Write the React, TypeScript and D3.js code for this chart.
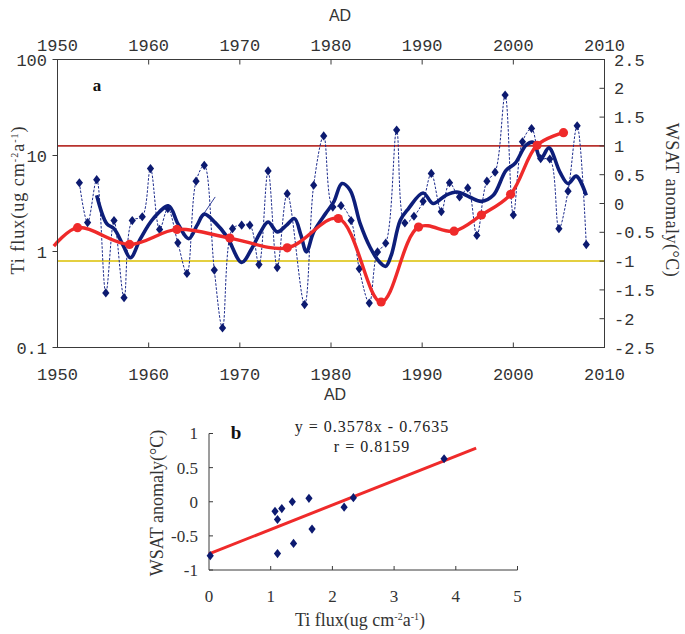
import React from 'react';
import * as d3 from 'd3';

// ---- Panel a: annual Ti flux (ug cm-2 a-1), log axis ----
const tiYears = [1952.4,1953.3,1954.3,1955.3,1956.2,1957.3,1958.2,1959.3,1960.2,1961.2,1962.1,1963.2,1964.2,1965.2,1966.1,1967.2,1968.1,1969.2,1970.2,1971.1,1972.1,1973.1,1974.1,1975.2,1977.1,1978.1,1979.2,1980.2,1981.1,1982.2,1983.1,1984.2,1985.1,1986.0,1987.2,1988.1,1989.1,1990.1,1991.0,1992.1,1993.0,1994.1,1995.0,1996.0,1997.1,1998.0,1999.1,2000.0,2001.0,2002.0,2003.0,2004.0,2005.0,2006.0,2007.0,2008.0];
const tiFlux = [5.2,2.0,5.6,0.37,2.1,0.33,2.1,2.3,7.3,1.7,2.8,1.23,0.59,5.4,7.9,0.64,0.16,1.73,1.88,1.88,0.73,6.9,0.68,4.0,0.28,4.9,16.0,2.9,3.0,2.1,0.66,0.29,0.99,1.22,18.4,1.98,2.33,3.33,6.5,2.6,5.2,3.7,4.6,1.47,5.4,6.7,42.6,2.4,13.9,19.1,9.3,9.2,1.73,4.25,20.4,1.18];

// smoothed Ti flux (thick line)
const smoothYears = [1954.3,1955.4,1956.2,1957.2,1958.0,1959.1,1960.5,1962.2,1963.2,1964.4,1965.3,1966.1,1967.3,1968.6,1970.2,1971.3,1972.2,1973.1,1974.1,1975.1,1976.0,1976.7,1977.3,1978.1,1979.4,1980.3,1981.2,1982.1,1983.2,1984.3,1985.3,1986.0,1986.6,1987.6,1988.5,1990.1,1991.2,1992.6,1993.8,1995.2,1996.5,1997.8,1999.2,2000.2,2001.4,2002.2,2003.0,2003.9,2005.1,2006.0,2006.9,2008.0];
const smoothFlux = [3.85,1.95,1.73,1.16,0.86,1.36,2.2,2.98,1.95,1.36,1.87,2.45,2.0,1.42,0.77,1.07,1.55,2.03,1.6,1.87,2.2,1.48,0.99,1.6,2.48,3.28,5.1,4.35,1.95,1.1,0.78,0.70,0.91,2.11,2.8,4.07,3.16,3.85,4.17,3.7,3.33,3.85,7.0,8.3,12.8,13.7,9.2,12.0,6.75,5.1,6.1,3.85];

// WSAT anomaly (°C), right axis
const wsatYears = [1949.6,1952.2,1957.9,1963.1,1968.9,1975.2,1980.8,1985.5,1989.6,1993.5,1996.5,1999.7,2002.6,2005.5];
const wsatAnomaly = [-0.74,-0.42,-0.71,-0.45,-0.60,-0.77,-0.26,-1.71,-0.41,-0.48,-0.20,0.16,1.01,1.23];

// short stray guide segment
const guideYears = [1966.0, 1967.3];
const guideFlux = [2.44, 3.7];

const yearTicks = [1950, 1960, 1970, 1980, 1990, 2000, 2010];
const fluxTicks = [0.1, 1, 10, 100];
const fluxTickLabels = ['0.1', '1', '10', '100'];
const anomalyTicks = [2.5, 2, 1.5, 1, 0.5, 0, -0.5, -1, -1.5, -2, -2.5];
const anomalyTickLabels = ['2.5', '2', '1.5', '1', '0.5', '0', '-0.5', '-1', '-1.5', '-2', '-2.5'];
const refHigh = 1;
const refLow = -1;

// ---- Panel b: scatter ----
const scatterFlux = [0.02,1.07,1.11,1.18,1.35,1.62,1.11,1.37,1.67,2.19,2.34,3.81];
const scatterAnomaly = [-0.79,-0.14,-0.26,-0.10,0.0,0.05,-0.76,-0.61,-0.40,-0.08,0.06,0.63];
const fitSlope = 0.3578;
const fitIntercept = -0.7635;
const fitRange = [0, 4.33];
const bFluxTicks = [0, 1, 2, 3, 4, 5];
const bAnomTicks = [1, 0.5, 0, -0.5, -1];
const bAnomLabels = ['1', '0.5', '0', '-0.5', '-1'];

const NAVY = '#0d1e7a';
const RED = '#ef2a2a';
const AXIS = '#3a3a3a';
const MONO = '"Liberation Mono", "DejaVu Sans Mono", monospace';
const SERIF = '"Liberation Serif", "Times New Roman", serif';
const SANS = '"Liberation Sans", Arial, sans-serif';

const diamond = 'M0,-4.6L3.6,0L0,4.6L-3.6,0Z';

export default function App() {
  const x = d3.scaleLinear().domain([1950, 2010]).range([57.5, 604.5]);
  const yL = d3.scaleLog().domain([0.1, 100]).range([347.5, 59.5]);
  const yR = d3.scaleLinear().domain([-2.5, 2.5]).range([347.5, 59.5]);
  const xb = d3.scaleLinear().domain([0, 5]).range([209, 517.5]);
  const yb = d3.scaleLinear().domain([-1, 1]).range([570, 433.5]);

  const curve = d3.curveCatmullRom.alpha(0.5);
  const tiLine = d3.line<number>().x((_, i) => x(tiYears[i])).y(d => yL(d)).curve(curve);
  const smoothLine = d3.line<number>().x((_, i) => x(smoothYears[i])).y(d => yL(d)).curve(curve);
  const wsatLine = d3.line<number>().x((_, i) => x(wsatYears[i])).y(d => yR(d)).curve(curve);
  const guideLine = d3.line<number>().x((_, i) => x(guideYears[i])).y(d => yL(d));
  const fitLine = d3.line<number>().x(d => xb(d)).y(d => yb(fitSlope * d + fitIntercept));

  const [x0, x1] = x.range();
  const [yBot, yTop] = yL.range();

  return (
    <svg width={685} height={634} style={{ position: 'absolute', left: 0, top: 0, background: '#fff' }}>
      <rect width={685} height={634} fill="#fff" />
      {/* top axis title and labels */}
      <text x={340} y={21} fontFamily={SANS} fontSize={16} fill="#333" textAnchor="middle">AD</text>
      {yearTicks.map(t => (
        <text key={'tt' + t} x={x(t)} y={51} fontFamily={MONO} fontSize={17} fill="#333" textAnchor="middle">{t}</text>
      ))}
      {yearTicks.map(t => (
        <text key={'bt' + t} x={x(t)} y={380} fontFamily={MONO} fontSize={17} fill="#333" textAnchor="middle">{t}</text>
      ))}
      <text x={335} y={400} fontFamily={SANS} fontSize={16} fill="#333" textAnchor="middle">AD</text>

      {/* reference lines */}
      <line x1={x0} x2={x1} y1={yR(refHigh)} y2={yR(refHigh)} stroke="#b8322e" strokeWidth={1.6} />
      <line x1={x0} x2={x1} y1={yR(refLow)} y2={yR(refLow)} stroke="#e4cf40" strokeWidth={2} />

      {/* annual Ti flux */}
      <path d={tiLine(tiFlux) || ''} fill="none" stroke="#1b2a8c" strokeWidth={1} strokeDasharray="2.5,1.5" />
      {tiFlux.map((v, i) => (
        <path key={'d' + i} d={diamond} transform={`translate(${x(tiYears[i])},${yL(v)})`} fill="#0c1a70" />
      ))}
      <path d={guideLine(guideFlux) || ''} fill="none" stroke="#1b2a8c" strokeWidth={0.9} />

      {/* smoothed Ti flux */}
      <path d={smoothLine(smoothFlux) || ''} fill="none" stroke={NAVY} strokeWidth={3.6} strokeLinejoin="round" />

      {/* WSAT anomaly */}
      <path d={wsatLine(wsatAnomaly) || ''} fill="none" stroke={RED} strokeWidth={3.4} strokeLinejoin="round" />
      {wsatAnomaly.map((v, i) => wsatYears[i] >= 1950 ? (
        <circle key={'r' + i} cx={x(wsatYears[i])} cy={yR(v)} r={4.6} fill={RED} />
      ) : null)}

      {/* frame */}
      <rect x={x0} y={yTop} width={x1 - x0} height={yBot - yTop} fill="none" stroke={AXIS} strokeWidth={1} />
      {yearTicks.slice(1, -1).map(t => (
        <g key={'tk' + t}>
          <line x1={x(t)} x2={x(t)} y1={yBot} y2={yBot - 5} stroke={AXIS} />
          <line x1={x(t)} x2={x(t)} y1={yTop} y2={yTop + 5} stroke={AXIS} />
        </g>
      ))}
      {fluxTicks.map((t, i) => (
        <g key={'fl' + t}>
          <line x1={x0 - 5} x2={x0} y1={yL(t)} y2={yL(t)} stroke={AXIS} />
          <text x={47} y={yL(t)} dy="0.36em" fontFamily={MONO} fontSize={17} fill="#333" textAnchor="end">{fluxTickLabels[i]}</text>
        </g>
      ))}
      {anomalyTicks.map((t, i) => (
        <g key={'an' + t}>
          <line x1={x1 - 5} x2={x1} y1={yR(t)} y2={yR(t)} stroke={AXIS} />
          <text x={614} y={yR(t)} dy="0.36em" fontFamily={MONO} fontSize={17} fill="#333">{anomalyTickLabels[i]}</text>
        </g>
      ))}
      <text x={97} y={91} fontFamily={SERIF} fontSize={17} fontWeight="bold" fill="#111" textAnchor="middle">a</text>

      {/* axis titles panel a */}
      <text transform="translate(24,200) rotate(-90)" fontFamily={SERIF} fontSize={18} letterSpacing={1} fill="#333" textAnchor="middle">
        Ti flux(ug cm<tspan dy={-6} fontSize={10}>-2</tspan><tspan dy={6}>a</tspan><tspan dy={-6} fontSize={10}>-1</tspan><tspan dy={6}>)</tspan>
      </text>
      <text transform="translate(666,200) rotate(90)" fontFamily={SERIF} fontSize={18} letterSpacing={0.5} fill="#333" textAnchor="middle">WSAT anomaly(°C)</text>

      {/* ---- Panel b ---- */}
      <line x1={xb(0)} x2={xb(0)} y1={yb(-1)} y2={yb(1)} stroke={AXIS} />
      <line x1={xb(0)} x2={xb(5)} y1={yb(-1)} y2={yb(-1)} stroke={AXIS} />
      {bAnomTicks.map((t, i) => (
        <g key={'ba' + t}>
          <line x1={xb(0)} x2={xb(0) + 4} y1={yb(t)} y2={yb(t)} stroke={AXIS} />
          <text x={198} y={yb(t)} dy="0.35em" fontFamily={SERIF} fontSize={17} fill="#333" textAnchor="end">{bAnomLabels[i]}</text>
        </g>
      ))}
      {bFluxTicks.map(t => (
        <g key={'bf' + t}>
          {t > 0 ? <line x1={xb(t)} x2={xb(t)} y1={yb(-1)} y2={yb(-1) - 4} stroke={AXIS} /> : null}
          <text x={xb(t)} y={602} fontFamily={SERIF} fontSize={17} fill="#333" textAnchor="middle">{t}</text>
        </g>
      ))}
      <path d={fitLine(fitRange) || ''} fill="none" stroke={RED} strokeWidth={3} />
      {scatterFlux.map((v, i) => (
        <path key={'s' + i} d={diamond} transform={`translate(${xb(v)},${yb(scatterAnomaly[i])})`} fill="#0c1a70" />
      ))}
      <text x={236} y={439} fontFamily={SERIF} fontSize={19} fontWeight="bold" fill="#111" textAnchor="middle">b</text>
      <text x={372} y={432} fontFamily={SERIF} fontSize={16} letterSpacing={1} fill="#222" textAnchor="middle">y = 0.3578x - 0.7635</text>
      <text x={372} y={452} fontFamily={SERIF} fontSize={16} letterSpacing={1} fill="#222" textAnchor="middle">r = 0.8159</text>
      <text x={360} y={626} fontFamily={SERIF} fontSize={18} fill="#333" textAnchor="middle">
        Ti flux(ug cm<tspan dy={-6} fontSize={10}>-2</tspan><tspan dy={6}>a</tspan><tspan dy={-6} fontSize={10}>-1</tspan><tspan dy={6}>)</tspan>
      </text>
      <text transform="translate(163,503) rotate(-90)" fontFamily={SERIF} fontSize={18} fill="#333" textAnchor="middle">WSAT anomaly(°C)</text>
    </svg>
  );
}
